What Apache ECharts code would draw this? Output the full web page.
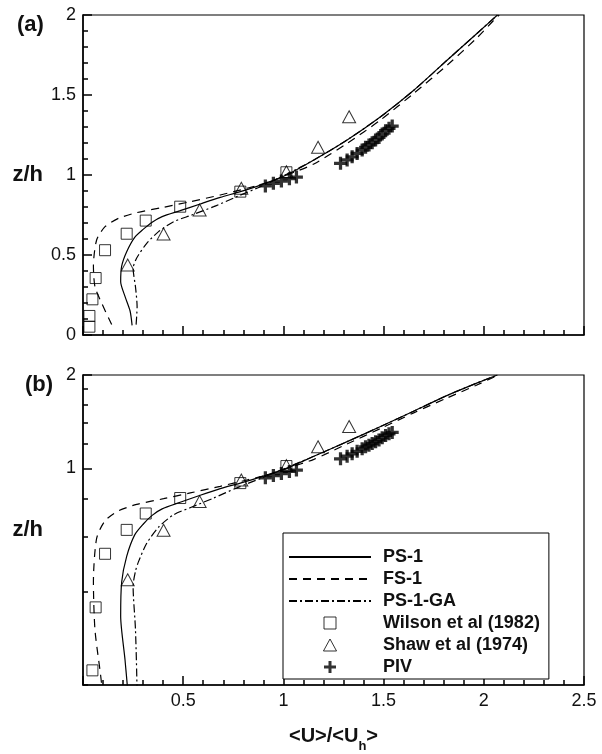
<!DOCTYPE html>
<html>
<head>
<meta charset="utf-8">
<script src="https://cdn.jsdelivr.net/npm/echarts@6/dist/echarts.min.js"></script>
<style>
  html, body { margin: 0; padding: 0; background: #fff; }
  #chart { width: 602px; height: 754px; }
</style>
</head>
<body>
<div id="chart"></div>
<script>
// model profiles, <U>/<Uh> against z/h
const ps1U = [0.245, 0.235, 0.21, 0.188, 0.193, 0.218, 0.258, 0.3, 0.345, 0.395, 0.485, 0.585, 0.685, 0.785, 0.885, 1.015, 1.152, 1.318, 1.485, 1.652, 1.818, 1.985, 2.068];
const ps1Z = [0.06, 0.15, 0.24, 0.333, 0.43, 0.52, 0.61, 0.66, 0.705, 0.74, 0.777, 0.819, 0.86, 0.896, 0.937, 1.0, 1.094, 1.219, 1.364, 1.531, 1.719, 1.906, 2.0];

const fs1U = [0.143, 0.093, 0.06, 0.052, 0.068, 0.11, 0.177, 0.268, 0.402, 0.535, 0.685, 0.818, 0.935, 1.018, 1.152, 1.32, 1.485, 1.65, 1.818, 1.96, 2.052, 2.077];
const fs1Z = [0.065, 0.2, 0.3, 0.43, 0.594, 0.677, 0.729, 0.765, 0.798, 0.833, 0.875, 0.917, 0.958, 1.0, 1.069, 1.2, 1.344, 1.51, 1.6875, 1.85, 1.97, 2.0];

const gaU = [0.265, 0.27, 0.262, 0.25, 0.262, 0.277, 0.318, 0.377, 0.452, 0.543, 0.652, 0.768, 0.885, 1.018, 1.152, 1.318, 1.485, 1.652, 1.818, 1.985, 2.068];
const gaZ = [0.065, 0.177, 0.3, 0.417, 0.466, 0.5, 0.573, 0.646, 0.708, 0.75, 0.802, 0.865, 0.927, 1.006, 1.094, 1.219, 1.364, 1.531, 1.719, 1.906, 2.0];

// measurements
const wilsonU = [0.032, 0.032, 0.047, 0.063, 0.11, 0.218, 0.313, 0.485, 0.785, 1.015];
const wilsonZ = [0.052, 0.119, 0.223, 0.356, 0.53, 0.633, 0.715, 0.802, 0.896, 1.017];

const shawU = [0.223, 0.402, 0.582, 0.79, 1.015, 1.173, 1.328];
const shawZ = [0.437, 0.631, 0.781, 0.917, 1.02, 1.173, 1.364];

const pivU = [0.91, 0.95, 0.99, 1.03, 1.065, 1.285, 1.318, 1.343, 1.368, 1.393, 1.41, 1.427, 1.443, 1.46, 1.477, 1.493, 1.51, 1.527, 1.543];
const pivZ = [0.932, 0.948, 0.962, 0.977, 0.987, 1.073, 1.094, 1.114, 1.135, 1.156, 1.173, 1.188, 1.202, 1.219, 1.235, 1.256, 1.277, 1.292, 1.306];

// panel (b) uses a log z/h axis
const bMajorTicks = [1, 2];
const bMinorTicks = [0.2, 0.4, 0.6, 0.8, 1.2, 1.4, 1.6, 1.8];

const font = 'Liberation Sans, Arial, Helvetica, sans-serif';
const plus = 'path://M4.5,0H7.5V4.5H12V7.5H7.5V12H4.5V7.5H0V4.5H4.5Z';
const square = 'path://M0,0H12V12H0Z';
const triangle = 'path://M6,0L12,11L0,11Z';

function pts(u, z, logY) {
  return u.map((v, i) => [v, logY ? Math.log10(z[i]) : z[i]]);
}

function xAxisOf(grid, withLabels) {
  return {
    type: 'value', gridIndex: grid, min: 0, max: 2.5, interval: 0.5,
    axisLine: { show: true, onZero: false, lineStyle: { color: '#000', width: 1.5 } },
    axisTick: { show: true, inside: true, length: 9, lineStyle: { color: '#000', width: 1.5 } },
    minorTick: { show: true, splitNumber: 5, length: 5, lineStyle: { color: '#000', width: 1.5 } },
    splitLine: { show: false },
    axisLabel: {
      show: withLabels, showMinLabel: false, margin: 7,
      fontFamily: font, fontSize: 18, color: '#111'
    },
    name: withLabels ? '<U>/<U{sub|h}>' : '',
    nameLocation: 'middle', nameGap: 35,
    nameTextStyle: {
      fontFamily: font, fontSize: 20, fontWeight: 'bold', color: '#111',
      rich: { sub: { fontFamily: font, fontSize: 13, fontWeight: 'bold', color: '#111', padding: [20, 0, 0, 0] } }
    }
  };
}

const yName = {
  name: 'z/h', nameLocation: 'middle', nameRotate: 0, nameGap: 40,
  nameTextStyle: { fontFamily: font, fontSize: 22, fontWeight: 'bold', color: '#111' }
};

function seriesFor(grid, logY) {
  const ax = { xAxisIndex: grid, yAxisIndex: grid };
  return [
    Object.assign({ name: 'PS-1', type: 'line', smooth: 0.25, symbol: 'none', data: pts(ps1U, ps1Z, logY),
      itemStyle: { color: '#000' }, lineStyle: { color: '#000', width: 1.2, type: 'solid' } }, ax),
    Object.assign({ name: 'FS-1', type: 'line', smooth: 0.25, symbol: 'none', data: pts(fs1U, fs1Z, logY),
      itemStyle: { color: '#000' }, lineStyle: { color: '#000', width: 1.2, type: [8, 6] } }, ax),
    Object.assign({ name: 'PS-1-GA', type: 'line', smooth: 0.25, symbol: 'none', data: pts(gaU, gaZ, logY),
      itemStyle: { color: '#000' }, lineStyle: { color: '#000', width: 1.2, type: [8, 3, 2, 3] } }, ax),
    Object.assign({ name: 'Wilson et al (1982)', type: 'scatter', symbol: square, symbolSize: 11,
      data: pts(wilsonU, wilsonZ, logY),
      itemStyle: { color: 'rgba(0,0,0,0)', borderColor: '#000', borderWidth: 1 } }, ax),
    Object.assign({ name: 'Shaw et al (1974)', type: 'scatter', symbol: triangle, symbolSize: [13, 12],
      data: pts(shawU, shawZ, logY),
      itemStyle: { color: 'rgba(0,0,0,0)', borderColor: '#000', borderWidth: 1 } }, ax),
    Object.assign({ name: 'PIV', type: 'scatter', symbol: plus, symbolSize: 13,
      data: pts(pivU, pivZ, logY),
      itemStyle: { color: '#000' } }, ax)
  ];
}

const hidden = { color: 'rgba(0,0,0,0)', borderWidth: 0 };

const chart = echarts.init(document.getElementById('chart'));
const option = {
  animation: false,
  backgroundColor: '#fff',
  title: [
    { text: '(a)', left: 12, top: 9, textStyle: { fontFamily: font, fontSize: 22, fontWeight: 'bold', color: '#111' } },
    { text: '(b)', left: 20, top: 369, textStyle: { fontFamily: font, fontSize: 22, fontWeight: 'bold', color: '#111' } }
  ],
  grid: [
    { left: 83, top: 15, width: 501, height: 320, show: true, borderColor: '#000', borderWidth: 1.2 },
    { left: 83, top: 375, width: 501, height: 319, show: true, borderColor: '#000', borderWidth: 1.2 }
  ],
  xAxis: [xAxisOf(0, false), xAxisOf(1, true)],
  yAxis: [
    Object.assign({
      type: 'value', gridIndex: 0, min: 0, max: 2, interval: 0.5,
      axisLine: { show: true, onZero: false, lineStyle: { color: '#000', width: 1.5 } },
      axisTick: { show: true, inside: true, length: 9, lineStyle: { color: '#000', width: 1.5 } },
      minorTick: { show: true, splitNumber: 5, length: 5, lineStyle: { color: '#000', width: 1.5 } },
      splitLine: { show: false },
      axisLabel: { margin: 7, fontFamily: font, fontSize: 18, color: '#111' }
    }, yName),
    Object.assign({
      type: 'value', gridIndex: 1, position: 'left', min: Math.log10(0.2), max: Math.log10(2),
      axisLine: { show: true, onZero: false, lineStyle: { color: '#000', width: 1.5 } },
      axisTick: { show: true, inside: true, length: 9, lineStyle: { color: '#000', width: 1.5 }, customValues: bMajorTicks.map(Math.log10) },
      splitLine: { show: false },
      axisLabel: {
        margin: 7, fontFamily: font, fontSize: 18, color: '#111',
        customValues: bMajorTicks.map(Math.log10),
        formatter: v => String(Math.round(Math.pow(10, v)))
      }
    }, yName),
    {
      type: 'value', gridIndex: 1, position: 'left', offset: 0, min: Math.log10(0.2), max: Math.log10(2),
      axisLine: { show: false, onZero: false },
      axisTick: { show: true, inside: true, length: 5, lineStyle: { color: '#000', width: 1.5 }, customValues: bMinorTicks.map(Math.log10) },
      splitLine: { show: false },
      axisLabel: { show: false }
    }
  ],
  legend: {
    orient: 'vertical', left: 283, top: 533,
    padding: [15, 9, 3, 5], itemWidth: 82, itemHeight: 12, itemGap: 4,
    borderColor: '#000', borderWidth: 1, backgroundColor: '#fff',
    selectedMode: false,
    textStyle: { fontFamily: font, fontSize: 18, fontWeight: 'bold', color: '#111', padding: [0, 0, 0, 7], lineHeight: 15 },
    data: [
      { name: 'PS-1', itemStyle: hidden },
      { name: 'FS-1', itemStyle: hidden },
      { name: 'PS-1-GA', itemStyle: hidden },
      { name: 'Wilson et al (1982)', itemStyle: { borderWidth: 1 } },
      { name: 'Shaw et al (1974)', itemStyle: { borderWidth: 1 } },
      { name: 'PIV', itemStyle: { borderWidth: 0 } }
    ]
  },
  series: seriesFor(0, false).concat(seriesFor(1, true))
};
chart.setOption(option);
</script>
</body>
</html>
